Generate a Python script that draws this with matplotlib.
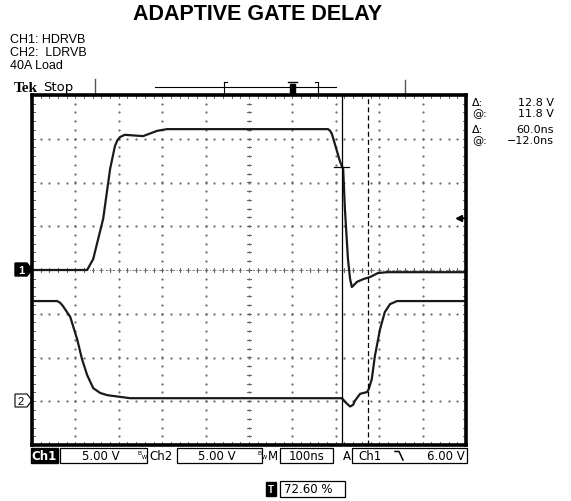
import numpy as np
import matplotlib
matplotlib.use('Agg')
import matplotlib.pyplot as plt
from matplotlib.patches import Rectangle, Polygon

plt.rcParams['font.family'] = ['Liberation Sans', 'DejaVu Sans']

# ---------------- trace data (divisions: x 0..10, y -4..4) ----------------
ch1_x = [0.0, 1.27, 1.41, 1.64, 1.80, 1.91, 1.97, 2.03, 2.14, 2.56, 2.88, 3.11, 6.82, 6.87,
         6.91, 7.10, 7.17, 7.21, 7.28, 7.33, 7.37, 7.49, 7.63, 7.79, 7.97, 8.18, 10.0]
ch1_y = [0.0, 0.0, 0.25, 1.17, 2.31, 2.83, 2.97, 3.04, 3.09, 3.06, 3.18, 3.22, 3.22, 3.18,
         3.11, 2.47, 2.31, 1.39, 0.25, -0.21, -0.39, -0.27, -0.21, -0.16, -0.07, -0.05, -0.05]

ch2_x = [0.0, 0.58, 0.65, 0.71, 0.88, 1.04, 1.15, 1.27, 1.41, 1.57, 1.73, 2.03, 2.26,
         7.14, 7.25, 7.33, 7.40, 7.44, 7.56, 7.72, 7.76, 7.83, 7.90, 8.02, 8.13, 8.25, 8.41, 10.0]
ch2_y = [-0.71, -0.71, -0.75, -0.82, -1.07, -1.58, -2.03, -2.40, -2.70, -2.81, -2.86, -2.90, -2.93,
         -2.93, -3.05, -3.12, -3.08, -2.99, -2.83, -2.79, -2.72, -2.49, -1.97, -1.35, -0.96, -0.78,
         -0.71, -0.71]

trig_pos = 7.26      # 72.60 %
cursor1_t = 7.14     # -12.0 ns
cursor2_t = 7.74     # +60 ns
cursor_v = 2.36      # 11.8 V at 5 V/div
trig_level = 1.2     # 6.00 V

readout_labels = ['\u0394:', '@:', '\u0394:', '@:']
readout_values = ['12.8 V', '11.8 V', '60.0ns', '\u221212.0ns']

W, H = 571, 502
fig = plt.figure(figsize=(W / 100, H / 100), dpi=100)

# overlay in pixel coordinates for labels / frames
ov = fig.add_axes([0, 0, 1, 1])
ov.set_xlim(0, W)
ov.set_ylim(H, 0)
ov.axis('off')

# scope screen
ax = fig.add_axes([32 / W, 1 - 446 / H, 434 / W, 350 / H])
ax.set_xlim(0, 10)
ax.set_ylim(-4, 4)
ax.set_xticks([])
ax.set_yticks([])
for s in ax.spines.values():
    s.set_linewidth(2.6)

# graticule dots
grid_col = '#666666'
fine = np.arange(0, 10.01, 0.2)
fine_y = np.arange(-4, 4.01, 0.2)
for gx in range(1, 10):
    ax.plot(np.full_like(fine_y, gx), fine_y, ls='none', marker='.', ms=1.2, color=grid_col)
for gy in range(-3, 4):
    ax.plot(fine, np.full_like(fine, gy), ls='none', marker='.', ms=1.2, color=grid_col)
# center cross ticks and edge ticks
for t in fine:
    ax.plot([t, t], [-0.05, 0.05], color=grid_col, lw=0.7)
    ax.plot([t, t], [-4, -3.93], color=grid_col, lw=0.7)
    ax.plot([t, t], [4, 3.93], color=grid_col, lw=0.7)
for t in fine_y:
    ax.plot([4.95, 5.05], [t, t], color=grid_col, lw=0.7)
    ax.plot([0, 0.07], [t, t], color=grid_col, lw=0.7)
    ax.plot([10, 9.93], [t, t], color=grid_col, lw=0.7)
ax.plot([0, 10], [0, 0], color=grid_col, lw=0.6, ls=(0, (3, 2, 1, 2)))

# traces
ax.plot(ch1_x, ch1_y, color='#1a1a1a', lw=1.6, solid_joinstyle='round')
ax.plot(ch2_x, ch2_y, color='#1a1a1a', lw=1.6, solid_joinstyle='round')

# cursors
ax.axvline(cursor1_t, color='black', lw=0.9)
ax.axvline(cursor2_t, color='black', lw=0.9, ls=(0, (4, 2.5)))
ax.plot([cursor1_t - 0.17, cursor1_t + 0.17], [cursor_v, cursor_v], color='black', lw=0.9)

# trigger level arrow
ax.plot([9.84], [trig_level], marker='<', ms=5, color='black', clip_on=False)
ax.plot([9.84, 10], [trig_level, trig_level], color='black', lw=1, clip_on=False)

# top trigger marker
ov.add_patch(Polygon([(342, 96), (351, 96), (346.5, 101)], closed=True, color='black'))
ov.add_patch(Rectangle((342, 101), 9, 14, color='black'))
ov.text(346.5, 108.5, 'T', color='white', fontsize=7, fontweight='bold', ha='center', va='center')

# channel ground markers
ov.add_patch(Polygon([(15, 264), (27, 264), (32, 270.5), (27, 277), (15, 277)], closed=True,
                     facecolor='black', edgecolor='black'))
ov.text(21, 271, '1', color='white', fontsize=8, fontweight='bold', ha='center', va='center')
ov.add_patch(Polygon([(15, 395), (27, 395), (32, 401.5), (27, 408), (15, 408)], closed=True,
                     facecolor='white', edgecolor='black', lw=0.8))
ov.text(21, 402, '2', color='black', fontsize=8, ha='center', va='center')

# title and notes
ov.text(258, 15, 'ADAPTIVE GATE DELAY', fontsize=15.5, fontweight='bold', ha='center', va='center')
ov.text(10, 40, 'CH1: HDRVB', fontsize=9, va='center')
ov.text(10, 53, 'CH2:  LDRVB', fontsize=9, va='center')
ov.text(10, 66, '40A Load', fontsize=9, va='center')

# top status line
ov.text(14, 88, 'Tek', fontsize=11, fontweight='bold', family='Liberation Serif', va='center')
ov.text(43, 88, 'Stop', fontsize=9.5, family='DejaVu Sans', va='center')
ov.plot([95, 95], [80, 96], color='#555555', lw=1)
ov.plot([155, 336], [88, 88], color='black', lw=0.8)
ov.plot([224, 224, 227], [83, 96, 96], color='black', lw=0.8)
ov.plot([224, 227], [83, 83], color='black', lw=0.8)
ov.plot([318, 318, 315], [83, 96, 96], color='black', lw=0.8)
ov.plot([318, 315], [83, 83], color='black', lw=0.8)
ov.add_patch(Rectangle((290, 85), 5, 9, color='black'))
ov.plot([288, 297], [83, 83], color='black', lw=1)
ov.plot([405, 405], [81, 96], color='#555555', lw=1)

# cursor readouts
for i, (lab, val) in enumerate(zip(readout_labels, readout_values)):
    yy = [103, 114, 130, 141][i]
    ov.text(472, yy, lab, fontsize=8, family='DejaVu Sans', va='center')
    ov.text(554, yy, val, fontsize=8, family='DejaVu Sans', va='center', ha='right')

# bottom status bar
fs = 8.5
ov.add_patch(Rectangle((31, 449), 27, 15, color='black'))
ov.text(44.5, 456.5, 'Ch1', color='white', fontsize=fs, family='DejaVu Sans',
        fontweight='bold', ha='center', va='center')
ov.add_patch(Rectangle((60, 449), 87, 15, fill=False, lw=0.9))
ov.text(101, 456.5, '5.00 V', fontsize=fs, family='DejaVu Sans', ha='center', va='center')
ov.text(140, 454, 'B', fontsize=4.5, ha='center', va='center')
ov.text(144, 458, 'w', fontsize=5, ha='center', va='center')
ov.text(149, 456.5, 'Ch2', fontsize=fs, family='DejaVu Sans', va='center')
ov.add_patch(Rectangle((177, 449), 85, 15, fill=False, lw=0.9))
ov.text(217, 456.5, '5.00 V', fontsize=fs, family='DejaVu Sans', ha='center', va='center')
ov.text(260, 454, 'B', fontsize=4.5, ha='center', va='center')
ov.text(264, 458, 'w', fontsize=5, ha='center', va='center')
ov.text(268, 456.5, 'M', fontsize=fs, family='DejaVu Sans', va='center')
ov.add_patch(Rectangle((280, 449), 53, 15, fill=False, lw=0.9))
ov.text(306.5, 456.5, '100ns', fontsize=fs, family='DejaVu Sans', ha='center', va='center')
ov.text(347, 456.5, 'A', fontsize=fs, family='DejaVu Sans', ha='center', va='center')
ov.add_patch(Rectangle((352, 449), 115, 15, fill=False, lw=0.9))
ov.text(358, 456.5, 'Ch1', fontsize=fs, family='DejaVu Sans', va='center')
ov.plot([395, 399, 403], [452.5, 452.5, 461], color='black', lw=1.1)
ov.text(465, 456.5, '6.00 V', fontsize=fs, family='DejaVu Sans', ha='right', va='center')

# trigger position footer
ov.add_patch(Rectangle((266, 483), 10, 14, color='black'))
ov.text(271, 490, 'T', color='white', fontsize=7, fontweight='bold', ha='center', va='center')
ov.add_patch(Rectangle((280, 482), 65, 16, fill=False, lw=0.9))
ov.text(284, 490, '72.60 %', fontsize=fs, family='DejaVu Sans', va='center')

fig.savefig('out.png', dpi=100)
